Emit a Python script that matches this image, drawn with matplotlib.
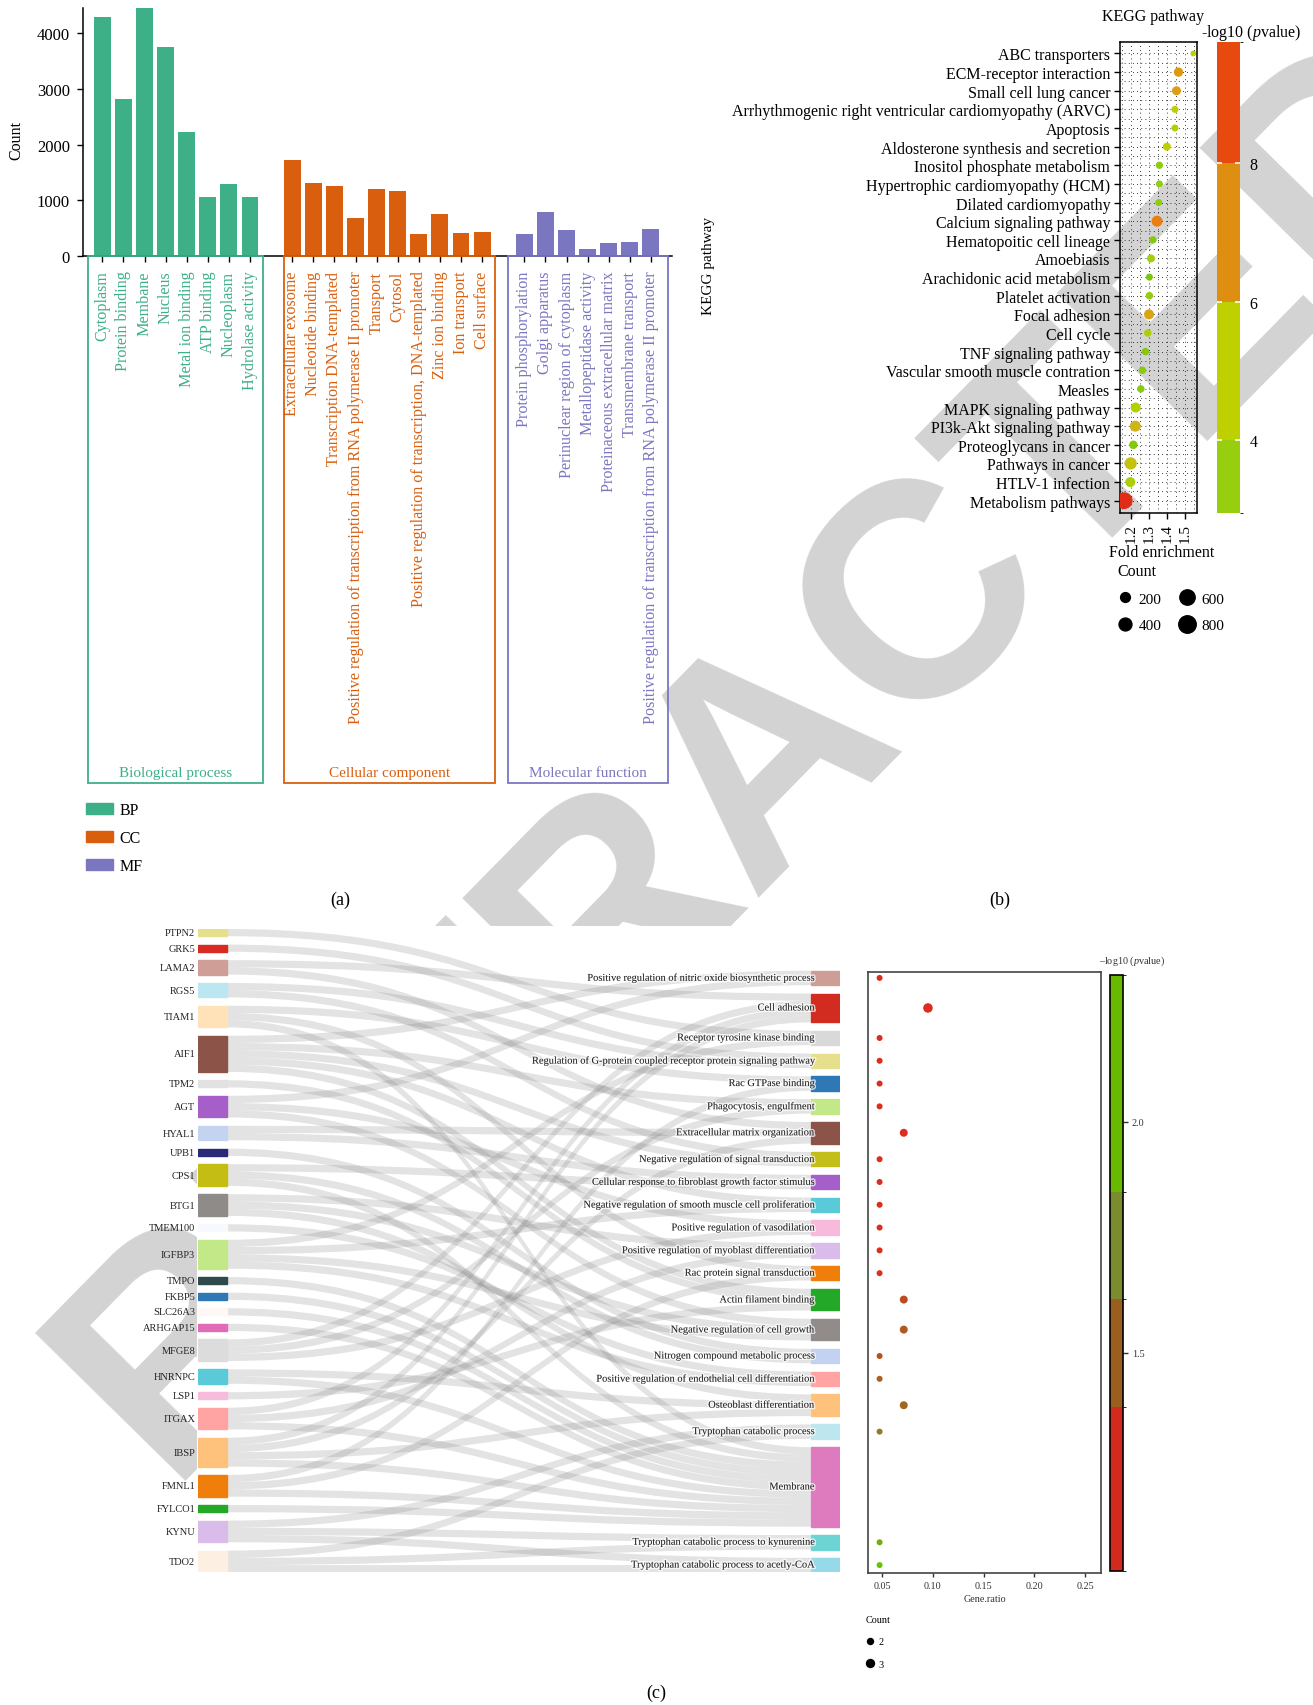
import matplotlib
matplotlib.use('Agg')
import matplotlib.pyplot as plt
import numpy as np
from matplotlib.path import Path
from matplotlib.patches import PathPatch, Rectangle, Patch
from matplotlib.colors import LinearSegmentedColormap, ListedColormap, BoundaryNorm, Normalize
from matplotlib.cm import ScalarMappable
from matplotlib.transforms import blended_transform_factory
from matplotlib.lines import Line2D
import matplotlib.patheffects as pe

plt.rcParams['font.family'] = ['Liberation Serif', 'DejaVu Serif']
plt.rcParams['mathtext.fontset'] = 'custom'
plt.rcParams['mathtext.rm'] = 'Liberation Serif'
plt.rcParams['mathtext.it'] = 'Liberation Serif:italic'

# ---------------- data: (a) GO terms ----------------
bp_terms = ['Cytoplasm', 'Protein binding', 'Membane', 'Nucleus', 'Metal ion binding',
            'ATP binding', 'Nucleoplasm', 'Hydrolase activity']
bp_counts = [4274, 2814, 4441, 3738, 2224, 1061, 1294, 1061]
cc_terms = ['Extracellular exosome', 'Nucleotide binding', 'Transcription DNA-templated',
            'Positive regulation of transcription from RNA polymerase II promoter',
            'Transport', 'Cytosol', 'Positive regulation of transcription, DNA-templated',
            'Zinc ion binding', 'Ion transport', 'Cell surface']
cc_counts = [1723, 1311, 1258, 686, 1204, 1168, 399, 757, 417, 435]
mf_terms = ['Protein phosphorylation', 'Golgi apparatus', 'Perinuclear region of cytoplasm',
            'Metallopeptidase activity', 'Proteinaceous extracellular matrix',
            'Transmembrane transport',
            'Positive regulation of transcription from RNA polymerase II promoter']
mf_counts = [399, 793, 471, 131, 238, 256, 489]

# ---------------- data: (b) KEGG ----------------
kegg_terms = ['ABC transporters', 'ECM-receptor interaction', 'Small cell lung cancer',
              'Arrhythmogenic right ventricular cardiomyopathy (ARVC)', 'Apoptosis',
              'Aldosterone synthesis and secretion', 'Inositol phosphate metabolism',
              'Hypertrophic cardiomyopathy (HCM)', 'Dilated cardiomyopathy',
              'Calcium signaling pathway', 'Hematopoitic cell lineage', 'Amoebiasis',
              'Arachidonic acid metabolism', 'Platelet activation', 'Focal adhesion',
              'Cell cycle', 'TNF signaling pathway', 'Vascular smooth muscle contration',
              'Measles', 'MAPK signaling pathway', 'PI3k-Akt signaling pathway',
              'Proteoglycans in cancer', 'Pathways in cancer', 'HTLV-1 infection',
              'Metabolism pathways']
kegg_fold = [1.548, 1.465, 1.454, 1.445, 1.445, 1.40, 1.358, 1.358, 1.354, 1.345, 1.322,
             1.311, 1.302, 1.302, 1.30, 1.293, 1.280, 1.263, 1.254, 1.225, 1.223, 1.212,
             1.197, 1.195, 1.161]
kegg_count = [20, 173, 157, 66, 66, 109, 78, 66, 66, 271, 78, 109, 66, 86, 211, 86, 86,
              86, 86, 211, 271, 132, 357, 211, 723]
kegg_logp = [5.0, 6.7, 6.6, 5.0, 4.8, 5.0, 3.9, 4.0, 3.9, 7.6, 3.5, 4.4, 3.1, 4.0, 6.5,
             4.6, 3.5, 3.7, 3.7, 4.8, 6.1, 3.5, 5.6, 4.6, 9.6]

# ---------------- data: (c) gene -> GO term sankey ----------------
genes = ['PTPN2', 'GRK5', 'LAMA2', 'RGS5', 'TIAM1', 'AIF1', 'TPM2', 'AGT', 'HYAL1', 'UPB1',
         'CPS1', 'BTG1', 'TMEM100', 'IGFBP3', 'TMPO', 'FKBP5', 'SLC26A3', 'ARHGAP15',
         'MFGE8', 'HNRNPC', 'LSP1', 'ITGAX', 'IBSP', 'FMNL1', 'FYLCO1', 'KYNU', 'TDO2']
gene_colors = ['#E6E08C', '#D62A22', '#CE9E97', '#BDE7F0', '#FFE2B8', '#8C5448', '#E2E2E2',
               '#A65FC8', '#C3D3F0', '#2C2A78', '#C4BD14', '#8F8B89', '#F6FAFE', '#C2E888',
               '#2E4A4A', '#2E78B6', '#FEF9F4', '#E06CB8', '#DCDCDC', '#5ACAD8', '#F7BCDB',
               '#FFA3A3', '#FFC27C', '#F07E0A', '#24A828', '#D9BCEA', '#FDF0E2']
go_terms = ['Positive regulation of nitric oxide biosynthetic process', 'Cell adhesion',
            'Receptor tyrosine kinase binding',
            'Regulation of G-protein coupled receptor protein signaling pathway',
            'Rac GTPase binding', 'Phagocytosis, engulfment', 'Extracellular matrix organization',
            'Negative regulation of signal transduction',
            'Cellular response to fibroblast growth factor stimulus',
            'Negative regulation of smooth muscle cell proliferation',
            'Positive regulation of vasodilation', 'Positive regulation of myoblast differentiation',
            'Rac protein signal transduction', 'Actin filament binding',
            'Negative regulation of cell growth', 'Nitrogen compound metabolic process',
            'Positive regulation of endothelial cell differentiation', 'Osteoblast differentiation',
            'Tryptophan catabolic process', 'Membrane',
            'Tryptophan catabolic process to kynurenine',
            'Tryptophan catabolic process to acetly-CoA']
go_colors = ['#CD9E96', '#D22B1F', '#D9D9D9', '#E6E08C', '#2E78B6', '#C2E888', '#8C5448',
             '#C4BE1A', '#A55FC8', '#5ACAD8', '#F7BADB', '#D9BCEA', '#F07E0A', '#24A828',
             '#918C8A', '#C2D2F0', '#FFA3A3', '#FFC27C', '#BDE6EF', '#DE7BBE', '#6ED3D3',
             '#96DAEA']
go_genes = [['AGT', 'AIF1'], ['LAMA2', 'MFGE8', 'ITGAX', 'IBSP'], ['PTPN2', 'IGFBP3'],
            ['GRK5', 'RGS5'], ['TIAM1', 'FMNL1'], ['AIF1', 'MFGE8'], ['LAMA2', 'HYAL1', 'IBSP'],
            ['RGS5', 'AIF1'], ['HYAL1', 'CPS1'], ['AIF1', 'IGFBP3'], ['AGT', 'MFGE8'],
            ['BTG1', 'ITGAX'], ['TIAM1', 'FMNL1'], ['TPM2', 'AIF1', 'LSP1'],
            ['AGT', 'BTG1', 'IGFBP3'], ['UPB1', 'CPS1'], ['TMEM100', 'IGFBP3'],
            ['BTG1', 'HNRNPC', 'IBSP'], ['KYNU', 'TDO2'],
            ['TIAM1', 'CPS1', 'TMPO', 'FKBP5', 'SLC26A3', 'ARHGAP15', 'HNRNPC', 'ITGAX',
             'IBSP', 'FMNL1', 'FYLCO1'],
            ['KYNU', 'TDO2'], ['KYNU', 'TDO2']]
# bubble plot beside the sankey (Membrane has no point)
go_ratio = [0.0476, 0.0952, 0.0476, 0.0476, 0.0476, 0.0476, 0.0714, 0.0476, 0.0476, 0.0476,
            0.0476, 0.0476, 0.0476, 0.0714, 0.0714, 0.0476, 0.0476, 0.0714, 0.0476, np.nan,
            0.0476, 0.0476]
go_count = [2, 4, 2, 2, 2, 2, 3, 2, 2, 2, 2, 2, 2, 3, 3, 2, 2, 3, 2, np.nan, 2, 2]
go_logp = [1.10, 1.08, 1.10, 1.10, 1.10, 1.10, 1.08, 1.10, 1.10, 1.12, 1.12, 1.12, 1.15,
           1.32, 1.42, 1.36, 1.48, 1.52, 1.68, np.nan, 2.00, 2.28]

W, H = 1313, 1706


def box(x0, y0, x1, y1):
    return [x0 / W, 1 - y1 / H, (x1 - x0) / W, (y1 - y0) / H]


fig = plt.figure(figsize=(W / 100, H / 100), dpi=100)
fig.patch.set_facecolor('white')

# watermark behind everything; panel (c) sits on an opaque white block
fig.text(769 / W, 1 - 754 / H, 'RETRACTED', rotation=45.5, rotation_mode='anchor',
         ha='center', va='center', fontsize=220, fontweight='bold', color='#D3D3D3',
         family=['Liberation Sans', 'DejaVu Sans'], zorder=-10)
fig.patches.append(Rectangle((197 / W, 0), 1 - 197 / W, 1 - 927 / H, transform=fig.transFigure,
                             facecolor='white', edgecolor='none', zorder=-5))

# ======================= (a) =======================
ax_a = fig.add_axes(box(82.9, 9, 672, 257.3))
ax_a.set_facecolor('none')
groups = [(bp_terms, bp_counts, '#3DB087', 'Biological process', 0.66, 0.6),
          (cc_terms, cc_counts, '#D95F0E', 'Cellular component', 0.4, 0.6),
          (mf_terms, mf_counts, '#7A76C0', 'Molecular function', 0.75, 0.8)]
trans = blended_transform_factory(ax_a.transData, ax_a.transAxes)
pos_all, lab_all, col_all = [], [], []
start = 0
for terms, counts, col, name, padl, padr in groups:
    x = np.arange(start, start + len(terms))
    ax_a.bar(x, counts, width=0.8, color=col, zorder=2)
    pos_all += list(x)
    lab_all += terms
    col_all += [col] * len(terms)
    ax_a.add_patch(Rectangle((x[0] - padl, -2.121), x[-1] - x[0] + padl + padr, 2.121,
                             transform=trans, fill=False, edgecolor=col, lw=1.3,
                             clip_on=False, zorder=3))
    ax_a.text((x[0] - padl + x[-1] + padr) / 2, -2.078, name, transform=trans,
              color=col, fontsize=11, ha='center', va='center')
    start += len(terms) + 1
ax_a.set_xlim(-0.92, 27.0)
ax_a.set_ylim(0, 4443)
ax_a.set_xticks(pos_all)
ax_a.set_xticklabels(lab_all, rotation=90, fontsize=11.6, va='top')
for t, c in zip(ax_a.get_xticklabels(), col_all):
    t.set_color(c)
ax_a.set_yticks([0, 1000, 2000, 3000, 4000])
ax_a.tick_params(axis='x', length=4.3, width=1, pad=6)
ax_a.tick_params(axis='y', labelsize=12, length=4.3, width=1, pad=5)
for s in ['top', 'right']:
    ax_a.spines[s].set_visible(False)
ax_a.spines['left'].set_linewidth(1.1)
ax_a.spines['bottom'].set_linewidth(1.1)
fig.text(16 / W, 1 - 140 / H, 'Count', rotation=90, fontsize=11.5, ha='center', va='center')

fig.legend(handles=[Patch(color=g[2]) for g in groups], labels=['BP', 'CC', 'MF'],
           loc='upper left', bbox_to_anchor=(86 / W, 1 - 803 / H), frameon=False,
           fontsize=11.5, borderpad=0, borderaxespad=0, handlelength=1.7, handleheight=0.7,
           handletextpad=0.4, labelspacing=0.75)

# ======================= (b) =======================
ax_b = fig.add_axes(box(1120.3, 43.3, 1196.5, 514))
ax_b.set_facecolor('none')
kegg_cmap = LinearSegmentedColormap.from_list(
    'kegg', [(0.0, '#78C410'), (0.15, '#92CC10'), (0.3, '#BCD000'), (0.45, '#CCB818'),
             (0.55, '#DE9A14'), (0.68, '#EA8010'), (1.0, '#E02818')])
kegg_norm = Normalize(2.95, 9.75)
yk = np.arange(len(kegg_terms))
ax_b.scatter(kegg_fold, yk, s=13.5 + 0.1814 * np.array(kegg_count), c=kegg_logp,
             cmap=kegg_cmap, norm=kegg_norm, edgecolors='none', zorder=3)
ax_b.set_xlim(1.139, 1.566)
ax_b.set_ylim(24.66, -0.6)
ax_b.set_yticks(yk)
ax_b.set_yticklabels(kegg_terms, fontsize=11.5)
ax_b.set_xticks([1.2, 1.3, 1.4, 1.5])
ax_b.set_xticklabels(['1.2', '1.3', '1.4', '1.5'], rotation=90, fontsize=11)
ax_b.set_xticks(np.arange(1.15, 1.56, 0.05), minor=True)
ax_b.set_yticks(yk[:-1] + 0.5, minor=True)
ax_b.tick_params(which='minor', length=0)
ax_b.tick_params(which='major', length=4.2, width=1, pad=3)
ax_b.grid(True, which='both', color='k', lw=0.6, ls=(0, (1, 4)))
ax_b.set_axisbelow(True)
for s in ax_b.spines.values():
    s.set_linewidth(1.1)
fig.text(708 / W, 1 - 266 / H, 'KEGG pathway', rotation=90, fontsize=11, ha='center', va='center')
fig.text(1153 / W, 1 - 17 / H, 'KEGG pathway', fontsize=11.5, ha='center', va='center')
fig.text(1162 / W, 1 - 553 / H, 'Fold enrichment', fontsize=11.5, ha='center', va='center')

size_lv = [200, 400, 600, 800]
fig.legend(handles=[Line2D([], [], marker='o', ls='', color='black',
                           markersize=np.sqrt(13.5 + 0.1814 * v)) for v in size_lv],
           labels=[str(v) for v in size_lv], ncol=2, title='Count', alignment='left',
           loc='upper left', bbox_to_anchor=(1117 / W, 1 - 564 / H), frameon=False,
           fontsize=11, title_fontsize=11.5, borderpad=0, borderaxespad=0, handlelength=1.0,
           handletextpad=0.4, columnspacing=1.2, labelspacing=0.85)

cax_b = fig.add_axes(box(1216.8, 43.3, 1239.9, 514))
kb = ScalarMappable(norm=BoundaryNorm([2.95, 4, 6, 8, 9.75], 4),
                    cmap=ListedColormap(['#97CF0F', '#BFD000', '#DE8F12', '#E64A0E']))
cb_b = fig.colorbar(kb, cax=cax_b, ticks=[4, 6, 8], spacing='proportional')
cb_b.outline.set_visible(False)
cax_b.tick_params(direction='in', color='white', length=3.5, width=1.2, left=True,
                  right=True, labelsize=11.5, pad=7)
fig.text(1251 / W, 1 - 33 / H, '-log10 ($\\it{p}$value)', fontsize=11.5, ha='center', va='center')

# ======================= (c) sankey =======================
gap = 1.154
links = []
for t, lst in enumerate(go_genes):
    for g in lst:
        links.append((genes.index(g), t))
gene_n = [sum(1 for l in links if l[0] == i) for i in range(len(genes))]
term_n = [len(l) for l in go_genes]
L = sum(gene_n) + gap * (len(genes) - 1)
R = sum(term_n) + gap * (len(go_terms) - 1)
gene_top = np.concatenate([[0], np.cumsum(np.array(gene_n) + gap)[:-1]])
term_top = (L - R) + np.concatenate([[0], np.cumsum(np.array(term_n) + gap)[:-1]])

xl0, xl1, xr0, xr1 = 197.7, 227.0, 810.7, 840.0
ax_s = fig.add_axes(box(xl0, 930, xr1, 1573.3))
ax_s.set_facecolor('none')
ax_s.set_xlim(xl0, xr1)
ax_s.set_ylim(L, 0)
ax_s.axis('off')

out_k = {}
in_k = {}
for g, t in sorted(links, key=lambda l: (l[0], l[1])):
    out_k[(g, t)] = out_k.get(g, 0)
    out_k[g] = out_k.get(g, 0) + 1
for g, t in sorted(links, key=lambda l: (l[1], l[0])):
    in_k[(g, t)] = in_k.get(t, 0)
    in_k[t] = in_k.get(t, 0) + 1
xm = (xl1 + xr0) / 2
for g, t in links:
    y0 = gene_top[g] + out_k[(g, t)]
    y1 = term_top[t] + in_k[(g, t)]
    verts = [(xl1, y0), (xm, y0), (xm, y1), (xr0, y1), (xr0, y1 + 1), (xm, y1 + 1),
             (xm, y0 + 1), (xl1, y0 + 1), (xl1, y0)]
    codes = [Path.MOVETO, Path.CURVE4, Path.CURVE4, Path.CURVE4, Path.LINETO,
             Path.CURVE4, Path.CURVE4, Path.CURVE4, Path.CLOSEPOLY]
    ax_s.add_patch(PathPatch(Path(verts, codes), facecolor='#808080', alpha=0.22,
                             edgecolor='none', zorder=1))

for i, g in enumerate(genes):
    ax_s.add_patch(Rectangle((xl0, gene_top[i]), xl1 - xl0, gene_n[i],
                             color=gene_colors[i], zorder=2))
    ax_s.text(xl0 - 2.5, gene_top[i] + gene_n[i] / 2, g, ha='right', va='center',
              fontsize=7.5, color='#222222')
halo = [pe.withStroke(linewidth=2.2, foreground=(1, 1, 1, 0.7))]
for i, t in enumerate(go_terms):
    ax_s.add_patch(Rectangle((xr0, term_top[i]), xr1 - xr0, term_n[i],
                             color=go_colors[i], zorder=2))
    ax_s.text(xr0 + 3.5, term_top[i] + term_n[i] / 2, t, ha='right', va='center',
              fontsize=7.5, color='#222222', zorder=4, path_effects=halo)

# ======================= (c) bubble =======================
unit_px = (1573.3 - 930) / L
ax_d = fig.add_axes(box(868.3, 973.3, 1101, 1574))
ax_d.set_facecolor('none')
go_cmap = LinearSegmentedColormap.from_list(
    'go', [(0.0, '#E02A1E'), (0.1, '#D93020'), (0.33, '#A8601E'), (0.45, '#9A6E20'),
           (0.57, '#878A2E'), (0.78, '#74B010'), (1.0, '#66C800')])
go_norm = Normalize(1.026, 2.318)
yc = term_top + np.array(term_n) / 2
ax_d.scatter(go_ratio, yc, s=14.2 * np.array(go_count) - 9.7, c=go_logp, cmap=go_cmap,
             norm=go_norm, edgecolors='none', zorder=3)
ax_d.set_xlim(0.0365, 0.2655)
ax_d.set_ylim((1574 - 930) / unit_px, (973.3 - 930) / unit_px)
ax_d.set_yticks([])
ax_d.set_xticks([0.05, 0.10, 0.15, 0.20, 0.25])
ax_d.set_xticklabels(['0.05', '0.10', '0.15', '0.20', '0.25'])
ax_d.tick_params(axis='x', labelsize=7.3, length=3, width=1, colors='#333333', pad=3)
for s in ax_d.spines.values():
    s.set_linewidth(1.2)
    s.set_color('#444444')
ax_d.set_xlabel('Gene.ratio', fontsize=7.3, color='#333333', labelpad=3)

fig.legend(handles=[Line2D([], [], marker='o', ls='', color='black',
                           markersize=np.sqrt(14.2 * v - 9.7)) for v in [2, 3]],
           labels=['2', '3'], title='Count', alignment='left', loc='upper left',
           bbox_to_anchor=(866 / W, 1 - 1616 / H), frameon=False, fontsize=7.3,
           title_fontsize=7.3, borderpad=0, borderaxespad=0, handlelength=0.8,
           handletextpad=0.4, labelspacing=1.3)

cax_c = fig.add_axes(box(1110, 976, 1122.7, 1572.3))
kc = ScalarMappable(norm=BoundaryNorm([1.026, 1.383, 1.616, 1.848, 2.318], 4),
                    cmap=ListedColormap(['#D42A1E', '#9A5E1E', '#7A8C2E', '#66BB00']))
cb_c = fig.colorbar(kc, cax=cax_c, ticks=[1.5, 2.0], format='%.1f', spacing='proportional')
cb_c.outline.set_linewidth(1.2)
cax_c.tick_params(labelsize=7.3, length=3.5, width=1, colors='#333333', pad=3)
fig.text(1132 / W, 1 - 961 / H, '\u2013log10 ($\\it{p}$value)', fontsize=7.3,
         ha='center', va='center', color='#333333')

# panel letters
fig.text(340.5 / W, 1 - 900 / H, '(a)', fontsize=13, ha='center', va='center')
fig.text(1000 / W, 1 - 900 / H, '(b)', fontsize=13, ha='center', va='center')
fig.text(656 / W, 1 - 1693 / H, '(c)', fontsize=13, ha='center', va='center')

fig.savefig('out.png', dpi=100)
